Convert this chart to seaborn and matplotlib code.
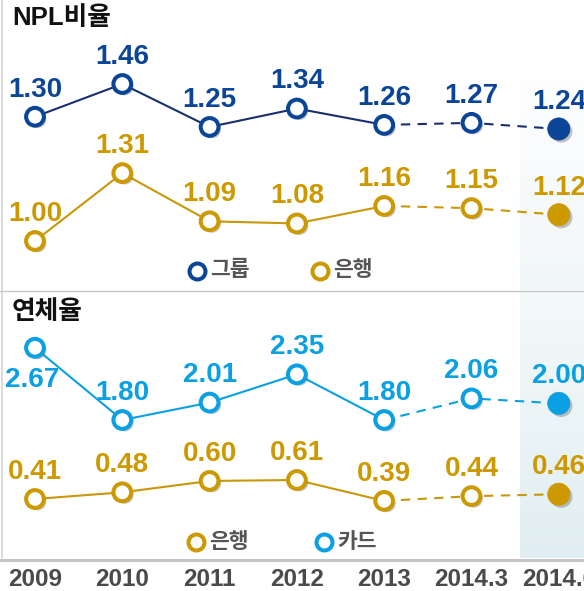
import numpy as np
import pandas as pd
import matplotlib
matplotlib.use("Agg")
import matplotlib.pyplot as plt
import matplotlib.patheffects as pe
from matplotlib.transforms import blended_transform_factory
import seaborn as sns

# ---------------- data ----------------
periods = ["2009", "2010", "2011", "2012", "2013", "2014.3", "2014.6"]
npl_group = [1.30, 1.46, 1.25, 1.34, 1.26, 1.27, 1.24]
npl_bank = [1.00, 1.31, 1.09, 1.08, 1.16, 1.15, 1.12]
delinq_card = [2.67, 1.80, 2.01, 2.35, 1.80, 2.06, 2.00]
delinq_bank = [0.41, 0.48, 0.60, 0.61, 0.39, 0.44, 0.46]

sns.set_theme(style="white")
plt.rcParams['font.family'] = ['Liberation Sans', 'Noto Sans CJK KR', 'DejaVu Sans']

W, H = 584, 591
fig = plt.figure(figsize=(W / 100, H / 100), dpi=100)

# background / decoration axes in pixel coordinates
ax0 = fig.add_axes([0, 0, 1, 1])
ax0.set_xlim(0, W)
ax0.set_ylim(H, 0)
ax0.axis("off")

# shaded last column (gradients)
def vgrad(c_top, c_bot, y0, y1, x0=520, x1=W):
    c_top = np.array(matplotlib.colors.to_rgb(c_top))
    c_bot = np.array(matplotlib.colors.to_rgb(c_bot))
    t = np.linspace(0, 1, 256)[:, None, None]
    img = c_top * (1 - t) + c_bot * t
    img = np.repeat(img, 2, axis=1)
    ax0.imshow(img, extent=(x0, x1, y1, y0), aspect="auto", zorder=0, interpolation="bilinear")

vgrad("#ffffff", "#f1f6f8", 60, 290)
vgrad("#f4f9fa", "#e1eef1", 292, 558)
ax0.set_xlim(0, W)
ax0.set_ylim(H, 0)

# frame lines
ax0.plot([1.5, 1.5], [0, 558], color="#d4d4d4", lw=1.2, zorder=1)
ax0.plot([0, W], [291, 291], color="#c8c8c8", lw=1.0, zorder=1)
ax0.plot([0, W], [559.5, 559.5], color="#c4c4c4", lw=2.2, zorder=1)

# panel titles
ax0.text(12, 18, "NPL비율", fontsize=18.5, fontweight="black", color="#111111",
         ha="left", va="center")
ax0.text(12, 312, "연체율", fontsize=18.5, fontweight="black", color="#111111",
         ha="left", va="center")

# legends
def legend_item(x, y, color, label):
    ax0.plot([x], [y], marker="o", ms=11.5, mew=2.9, mfc="white", mec=color,
             linestyle="none", zorder=3)
    ax0.text(x + 13, y, label, fontsize=15.5, fontweight="bold", color="#555555",
             ha="left", va="center")

C_GROUP = "#0b4597"
C_GROUP_LINE = "#1a2f6e"
C_BANK = "#cc9900"
C_BANK_LINE = "#c9970c"
C_CARD = "#0aa0e3"

legend_item(197, 271, C_GROUP, "그룹")
legend_item(320, 271, C_BANK, "은행")
legend_item(196, 542, C_BANK, "은행")
legend_item(324, 542, C_CARD, "카드")

# ---------------- series ----------------
XMIN, XMAX = -35 / 87.3, (W - 35) / 87.3

def series_axes(a, b):
    """pixel y = a - b*value"""
    ax = fig.add_axes([0, 0, 1, 1])
    ax.set_xlim(XMIN, XMAX)
    ax.set_ylim((a - H) / b, a / b)
    ax.axis("off")
    ax.patch.set_alpha(0)
    return ax

shadow = [pe.SimplePatchShadow(offset=(1.8, -1.8), shadow_rgbFace="#555555", alpha=0.35),
          pe.Normal()]

def draw_series(ax, values, color, line_color, label_offsets):
    df = pd.DataFrame({"x": np.arange(len(values)), "v": values})
    solid = df.iloc[:5]
    dashed = df.iloc[4:]
    sns.lineplot(data=solid, x="x", y="v", ax=ax, color=line_color, lw=1.5,
                 sort=False, zorder=2)
    sns.lineplot(data=dashed, x="x", y="v", ax=ax, color=line_color, lw=1.5,
                 sort=False, zorder=2, dashes=False, linestyle=(0, (4.5, 3.5)))
    n = len(values)
    ax.plot(df["x"][:n - 1], df["v"][:n - 1], marker="o", linestyle="none", ms=12.8,
            mew=2.9, mfc="white", mec=color, zorder=4, path_effects=shadow)
    ax.plot(df["x"][n - 1:], df["v"][n - 1:], marker="o", linestyle="none", ms=16,
            mew=0.5, mfc=color, mec=color, zorder=4, path_effects=shadow)
    for i, v in enumerate(values):
        dx, dy = label_offsets.get(i, (0, 19.5))
        ax.annotate(f"{v:.2f}", (i, v), xytext=(dx, dy), textcoords="offset points",
                    ha="center", va="center", fontsize=20, fontweight="bold",
                    color=color, zorder=5, annotation_clip=False)

ax_g = series_axes(129 + 1.24 * 204.5, 204.5)
draw_series(ax_g, npl_group, C_GROUP, C_GROUP_LINE, {})

ax_b1 = series_axes(241 + 1.00 * 219, 219)
draw_series(ax_b1, npl_bank, C_BANK, C_BANK_LINE, {})

ax_c = series_axes(420 + 1.80 * 83, 83)
draw_series(ax_c, delinq_card, C_CARD, C_CARD, {0: (-2, -23)})

ax_b2 = series_axes(499 + 0.41 * 95, 95)
draw_series(ax_b2, delinq_bank, C_BANK, C_BANK_LINE, {})

# x labels
trans = blended_transform_factory(ax_g.transData, ax0.transData)
for i, p in enumerate(periods):
    ax0.text(i, 580, p, transform=trans, ha="center", va="center", fontsize=17.5,
             fontweight="bold", color="#4a4a4a", clip_on=False)

fig.savefig("out.png", dpi=100)
